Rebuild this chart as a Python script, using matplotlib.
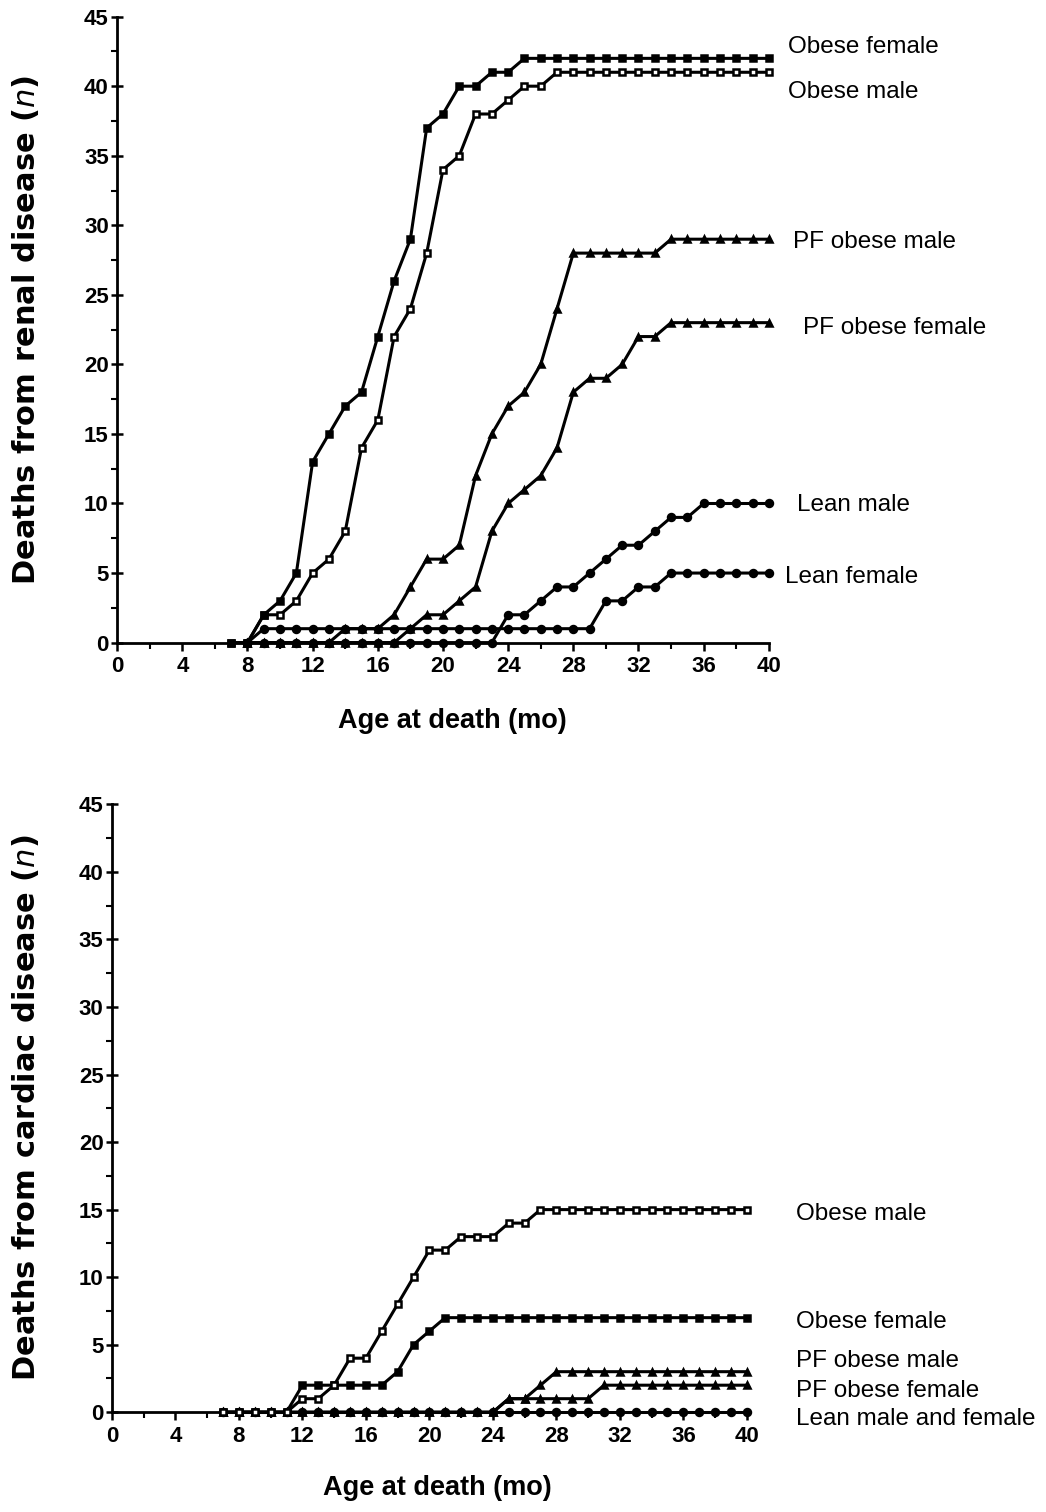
import matplotlib
matplotlib.use("Agg")
import matplotlib.pyplot as plt
from matplotlib.ticker import MultipleLocator

plt.rcParams['font.family'] = ['Liberation Sans', 'DejaVu Sans']

# ---- renal disease (top panel) ----
renal_months_obese = list(range(7, 41))
renal_obese_female = [0, 0, 2, 3, 5, 13, 15, 17, 18, 22, 26, 29, 37, 38, 40, 40, 41, 41,
                      42, 42, 42, 42, 42, 42, 42, 42, 42, 42, 42, 42, 42, 42, 42, 42]
renal_obese_male = [0, 0, 2, 2, 3, 5, 6, 8, 14, 16, 22, 24, 28, 34, 35, 38, 38, 39, 40, 40,
                    41, 41, 41, 41, 41, 41, 41, 41, 41, 41, 41, 41, 41, 41]

renal_months_other = list(range(8, 41))
renal_pf_male = [0, 0, 0, 0, 0, 0, 1, 1, 1, 2, 4, 6, 6, 7, 12, 15, 17, 18, 20, 24,
                 28, 28, 28, 28, 28, 28, 29, 29, 29, 29, 29, 29, 29]
renal_pf_female = [0, 0, 0, 0, 0, 0, 0, 0, 0, 0, 1, 2, 2, 3, 4, 8, 10, 11, 12, 14,
                   18, 19, 19, 20, 22, 22, 23, 23, 23, 23, 23, 23, 23]
renal_lean_male = [0, 0, 0, 0, 0, 0, 0, 0, 0, 0, 0, 0, 0, 0, 0, 0, 2, 2, 3, 4,
                   4, 5, 6, 7, 7, 8, 9, 9, 10, 10, 10, 10, 10]
renal_lean_female = [0, 1, 1, 1, 1, 1, 1, 1, 1, 1, 1, 1, 1, 1, 1, 1, 1, 1, 1, 1,
                     1, 1, 3, 3, 4, 4, 5, 5, 5, 5, 5, 5, 5]

# ---- cardiac disease (bottom panel) ----
cardiac_months = list(range(7, 41))
cardiac_obese_male = [0, 0, 0, 0, 0, 1, 1, 2, 4, 4, 6, 8, 10, 12, 12, 13, 13, 13, 14, 14,
                      15, 15, 15, 15, 15, 15, 15, 15, 15, 15, 15, 15, 15, 15]
cardiac_obese_female = [0, 0, 0, 0, 0, 2, 2, 2, 2, 2, 2, 3, 5, 6, 7, 7, 7, 7, 7, 7,
                        7, 7, 7, 7, 7, 7, 7, 7, 7, 7, 7, 7, 7, 7]
cardiac_pf_male = [0, 0, 0, 0, 0, 0, 0, 0, 0, 0, 0, 0, 0, 0, 0, 0, 0, 0, 1, 1,
                   2, 3, 3, 3, 3, 3, 3, 3, 3, 3, 3, 3, 3, 3]
cardiac_pf_female = [0, 0, 0, 0, 0, 0, 0, 0, 0, 0, 0, 0, 0, 0, 0, 0, 0, 0, 1, 1,
                     1, 1, 1, 1, 2, 2, 2, 2, 2, 2, 2, 2, 2, 2]
cardiac_lean = [0, 0, 0, 0, 0, 0, 0, 0, 0, 0, 0, 0, 0, 0, 0, 0, 0, 0, 0, 0,
                0, 0, 0, 0, 0, 0, 0, 0, 0, 0, 0, 0, 0, 0]

x_ticks = [0, 4, 8, 12, 16, 20, 24, 28, 32, 36, 40]
y_ticks = [0, 5, 10, 15, 20, 25, 30, 35, 40, 45]

LW = 2.2
MS = 5.0

fig = plt.figure(figsize=(10.46, 15.12), dpi=100)
ax1 = fig.add_axes([0.112, 0.575, 0.623, 0.414])
ax2 = fig.add_axes([0.107, 0.066, 0.607, 0.402])


def style_axis(ax, ylabel, xlab_pos, ylab_pos):
    ax.set_xlim(0, 40)
    ax.set_ylim(0, 45)
    for s in ['top', 'right']:
        ax.spines[s].set_visible(False)
    for s in ['left', 'bottom']:
        ax.spines[s].set_linewidth(2)
    ax.set_xticks(x_ticks, [str(t) for t in x_ticks], fontsize=16, fontweight='bold')
    ax.set_yticks(y_ticks, [str(t) for t in y_ticks], fontsize=16, fontweight='bold')
    ax.xaxis.set_minor_locator(MultipleLocator(2))
    ax.yaxis.set_minor_locator(MultipleLocator(2.5))
    ax.tick_params(axis='x', which='major', length=6, width=1.8, direction='out', pad=4)
    ax.tick_params(axis='x', which='minor', length=4, width=1.5, direction='out')
    ax.tick_params(axis='y', which='major', length=8, width=1.8, direction='inout', pad=2)
    ax.tick_params(axis='y', which='minor', length=4, width=1.5, direction='out')
    ax.set_ylabel(ylabel, fontsize=22, fontweight='bold', family=['DejaVu Sans'],
                  va='center', ha='center')
    ax.yaxis.set_label_coords(*ylab_pos)
    ax.set_xlabel('Age at death (mo)', fontsize=19.5, fontweight='bold',
                  va='center', ha='center')
    ax.xaxis.set_label_coords(*xlab_pos)


def draw(ax, x, y, marker, open_marker=False, z=3):
    ax.plot(x, y, color='black', lw=LW, marker=marker, ms=MS,
            mfc='white' if open_marker else 'black', mec='black', mew=1.8,
            clip_on=False, zorder=z)


# top panel
draw(ax1, renal_months_other, renal_lean_female, 'o')
draw(ax1, renal_months_other, renal_lean_male, 'o')
draw(ax1, renal_months_other, renal_pf_female, '^')
draw(ax1, renal_months_other, renal_pf_male, '^')
draw(ax1, renal_months_obese, renal_obese_male, 's', open_marker=True)
draw(ax1, renal_months_obese, renal_obese_female, 's')
style_axis(ax1, 'Deaths from renal disease ($\\mathbf{\\it{n}}$)',
           (0.515, -0.126), (-0.14, 0.5))

lab_kw = dict(fontsize=17.5, ha='left', va='center', clip_on=False)
ax1.text(41.2, 42.8, 'Obese female', **lab_kw)
ax1.text(41.2, 39.6, 'Obese male', **lab_kw)
ax1.text(41.5, 28.8, 'PF obese male', **lab_kw)
ax1.text(42.1, 22.6, 'PF obese female', **lab_kw)
ax1.text(41.7, 9.9, 'Lean male', **lab_kw)
ax1.text(41.0, 4.7, 'Lean female', **lab_kw)

# bottom panel
draw(ax2, cardiac_months, cardiac_lean, 'o')
draw(ax2, cardiac_months, cardiac_pf_female, '^')
draw(ax2, cardiac_months, cardiac_pf_male, '^')
draw(ax2, cardiac_months, cardiac_obese_female, 's')
draw(ax2, cardiac_months, cardiac_obese_male, 's', open_marker=True)
style_axis(ax2, 'Deaths from cardiac disease ($\\mathbf{\\it{n}}$)',
           (0.512, -0.125), (-0.136, 0.5))

ax2.text(43.1, 14.7, 'Obese male', **lab_kw)
ax2.text(43.1, 6.7, 'Obese female', **lab_kw)
ax2.text(43.1, 3.8, 'PF obese male', **lab_kw)
ax2.text(43.1, 1.6, 'PF obese female', **lab_kw)
ax2.text(43.1, -0.5, 'Lean male and female', **lab_kw)

fig.savefig('out.png', dpi=100)
